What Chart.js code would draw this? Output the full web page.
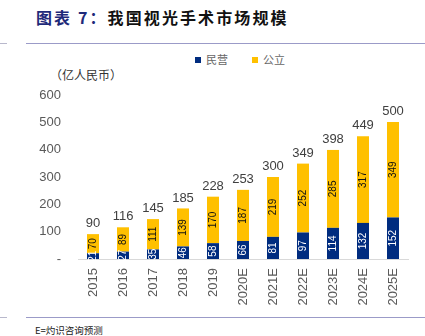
<!DOCTYPE html>
<html>
<head>
<meta charset="utf-8">
<script src="https://cdn.jsdelivr.net/npm/chart.js@4"></script>
<style>
  body { margin: 0; width: 425px; height: 336px; background: #fff; position: relative; overflow: hidden;
         font-family: "Noto Sans CJK SC", "Liberation Sans", sans-serif; }
  .title { position: absolute; left: 36px; top: 5px; font-size: 16px; font-weight: bold; letter-spacing: 2.1px; color: #111; }
  .title .lead { color: #1f2a7a; }
  .rule { position: absolute; height: 1px; background: #9b9bc8; }
  .rule.short { background: #b8b8cc; }
  .ytitle { position: absolute; left: 50px; top: 66px; font-size: 12px; color: #333; }
  .legend { position: absolute; top: 51px; left: 195px; font-size: 11px; color: #666; }
  .legend span.sq { display: inline-block; width: 6px; height: 6px; margin-right: 5px; vertical-align: 1px; }
  .legend .item { margin-right: 24px; }
  .foot { position: absolute; left: 35px; top: 323px; font-size: 9.5px; color: #222; }
  #wrap { position: absolute; left: 0; top: 50px; width: 425px; height: 265px; }
</style>
</head>
<body>
<div class="title"><span class="lead">图表 7：</span>我国视光手术市场规模</div>
<div class="rule short" style="left:0;width:7px;top:43px"></div>
<div class="rule" style="left:26px;width:399px;top:43px"></div>
<div class="legend"><span class="item"><span class="sq" style="background:#002c7f"></span>民营</span><span class="item"><span class="sq" style="background:#ffc000"></span>公立</span></div>
<div class="ytitle">（亿人民币）</div>
<div id="wrap"><canvas id="c"></canvas></div>
<div class="rule short" style="left:0;width:7px;top:317px"></div>
<div class="rule" style="left:26px;width:399px;top:317px"></div>
<div class="foot">E=灼识咨询预测</div>
<script>
// 我国视光手术市场规模（亿人民币）
const years = ["2015", "2016", "2017", "2018", "2019", "2020E", "2021E", "2022E", "2023E", "2024E", "2025E"];
const privateVals = [21, 27, 35, 46, 58, 66, 81, 97, 114, 132, 152];
const publicVals = [70, 89, 111, 139, 170, 187, 219, 252, 285, 317, 349];
const totals = [90, 116, 145, 185, 228, 253, 300, 349, 398, 449, 500];
const yTicks = [0, 100, 200, 300, 400, 500, 600];

const NAVY = "#002c7f";
const GOLD = "#ffc000";
const numFont = "'Liberation Sans', Arial, sans-serif";

// draw values inside the bars and the totals on top
const barLabels = {
  id: "barLabels",
  afterDatasetsDraw(chart) {
    const ctx = chart.ctx;
    ctx.save();
    ctx.textAlign = "center";
    ctx.textBaseline = "middle";
    ctx.font = "10px " + numFont;
    chart.data.datasets.forEach((ds, di) => {
      const meta = chart.getDatasetMeta(di);
      meta.data.forEach((bar, i) => {
        const cy = (bar.y + bar.base) / 2;
        ctx.save();
        ctx.translate(bar.x, cy);
        ctx.rotate(-Math.PI / 2);
        ctx.fillStyle = di === 0 ? "#ffffff" : "#111111";
        ctx.fillText(String(ds.data[i]), 0, 0);
        ctx.restore();
      });
    });
    const top = chart.getDatasetMeta(1);
    ctx.font = "13px " + numFont;
    ctx.fillStyle = "#404040";
    ctx.textBaseline = "bottom";
    top.data.forEach((bar, i) => {
      ctx.fillText(String(totals[i]), bar.x, bar.y - 4);
    });
    ctx.restore();
  },
};

new Chart(document.getElementById("c"), {
  type: "bar",
  data: {
    labels: years,
    datasets: [
      { label: "民营", data: privateVals, backgroundColor: NAVY },
      { label: "公立", data: publicVals, backgroundColor: GOLD },
    ],
  },
  options: {
    responsive: true,
    maintainAspectRatio: false,
    animation: false,
    layout: { padding: { left: 0, right: 17, top: 45, bottom: 0 } },
    datasets: { bar: { barPercentage: 0.4, categoryPercentage: 1 } },
    plugins: { legend: { display: false }, tooltip: { enabled: false } },
    scales: {
      x: {
        stacked: true,
        grid: { display: false, drawTicks: false },
        border: { display: true, color: "#d9d9d9", width: 1 },
        ticks: { color: "#595959", font: { size: 13, family: numFont }, minRotation: 90, maxRotation: 90, padding: 9 },
        afterFit: (s) => { s.height = 56; },
      },
      y: {
        stacked: true,
        min: 0,
        max: 600,
        grid: { display: false, drawTicks: false },
        border: { display: false },
        afterBuildTicks: (s) => { s.ticks = yTicks.map((v) => ({ value: v })); },
        ticks: {
          color: "#595959",
          font: { size: 13, family: numFont },
          padding: 17,
          callback: (v) => (v === 0 ? "-" : v),
        },
        afterFit: (s) => { s.width = 78; },
      },
    },
  },
  plugins: [barLabels],
});
</script>
</body>
</html>
